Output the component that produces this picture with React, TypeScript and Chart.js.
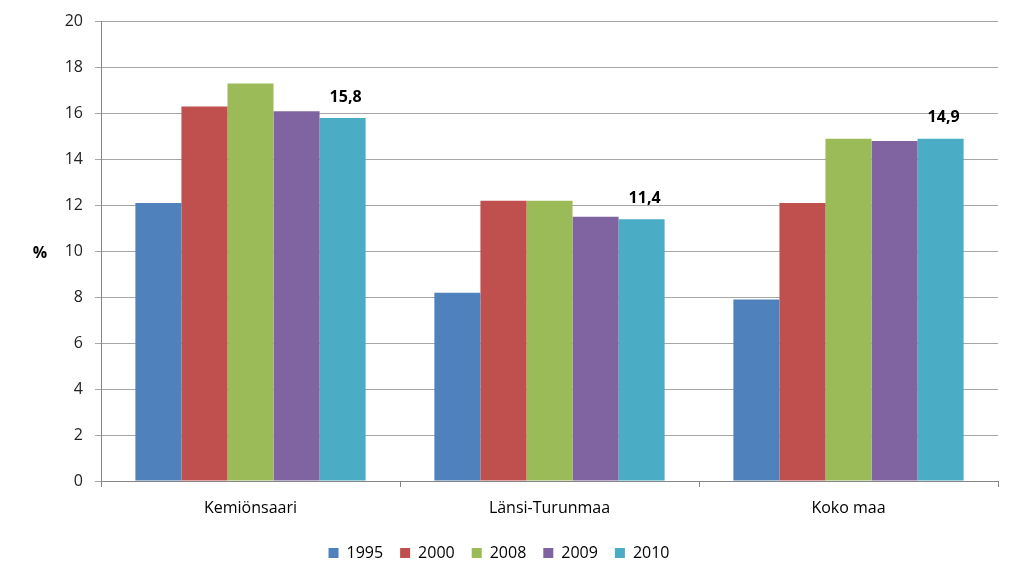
import React, { useEffect, useRef } from "react";
import { Chart, registerables } from "chart.js";

Chart.register(...registerables);

const categories = ["Kemiönsaari", "Länsi-Turunmaa", "Koko maa"];
const years = ["1995", "2000", "2008", "2009", "2010"];
const v1995 = [12.1, 8.2, 7.9];
const v2000 = [16.3, 12.2, 12.1];
const v2008 = [17.3, 12.2, 14.9];
const v2009 = [16.1, 11.5, 14.8];
const v2010 = [15.8, 11.4, 14.9];
const colors = ["#4F81BD", "#C0504D", "#9BBB59", "#8064A2", "#4BACC6"];
const yTicks = [0, 2, 4, 6, 8, 10, 12, 14, 16, 18, 20];
const FONT = "'Open Sans', 'Noto Sans', sans-serif";

const labelPlugin = {
  id: "labels2010",
  afterDatasetsDraw(chart: any) {
    const ctx = chart.ctx;
    const meta = chart.getDatasetMeta(4);
    ctx.save();
    ctx.font = `bold 16px ${FONT}`;
    ctx.fillStyle = "#000";
    ctx.textAlign = "center";
    ctx.textBaseline = "middle";
    meta.data.forEach((bar: any, i: number) => {
      ctx.fillText(String(v2010[i]).replace(".", ","), bar.x + 3, bar.y - 21);
    });
    const ys = chart.scales.y;
    ctx.fillText("%", 40, ys.getPixelForValue(10) + 2);
    ctx.restore();
  },
};

export default function App() {
  const ref = useRef<HTMLCanvasElement>(null);
  useEffect(() => {
    const series = [v1995, v2000, v2008, v2009, v2010];
    const chart = new Chart(ref.current!, {
      type: "bar",
      data: {
        labels: categories,
        datasets: series.map((d, i) => ({
          label: years[i],
          data: d,
          backgroundColor: colors[i],
          borderWidth: 0,
          categoryPercentage: 0.77,
          barPercentage: 1,
        })),
      },
      plugins: [labelPlugin],
      options: {
        animation: false,
        responsive: false,
        maintainAspectRatio: false,
        layout: { padding: { left: 0, right: 25, top: 16, bottom: 12 } },
        plugins: {
          legend: {
            position: "bottom",
            labels: {
              boxWidth: 10,
              boxHeight: 10,
              padding: 17,
              color: "#000",
              font: { family: FONT, size: 16 },
            },
          },
          tooltip: { enabled: false },
        },
        scales: {
          x: {
            grid: {
              offset: true,
              drawOnChartArea: false,
              tickLength: 6,
              color: "#868686",
            },
            border: { color: "#868686" },
            ticks: {
              color: "#000",
              padding: 12,
              font: { family: FONT, size: 16 },
            },
            afterFit(scale: any) {
              scale.height = 47;
            },
          },
          y: {
            min: 0,
            max: 20,
            afterBuildTicks(scale: any) {
              scale.ticks = yTicks.map((v) => ({ value: v }));
            },
            grid: { color: "#a6a6a6", tickLength: 6 },
            border: { color: "#868686" },
            ticks: {
              color: "#222",
              padding: 12,
              font: { family: FONT, size: 16 },
            },
            afterFit(scale: any) {
              scale.width = 101;
            },
          },
        },
      },
    } as any);
    return () => chart.destroy();
  }, []);
  return (
    <div style={{ position: "fixed", left: 0, top: 0, width: 1023, height: 583, background: "#fff" }}>
      <canvas ref={ref} width={1023} height={583} style={{ display: "block" }} />
    </div>
  );
}
